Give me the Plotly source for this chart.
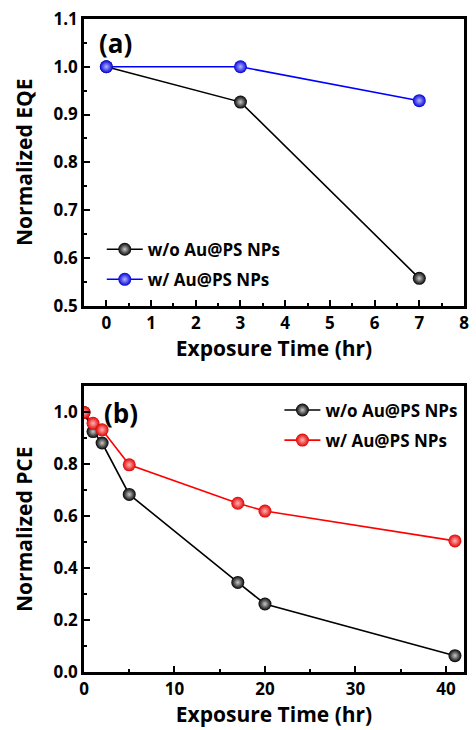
import plotly.graph_objects as go
from plotly.subplots import make_subplots

# Panel (a): normalized EQE vs exposure time
eqe_time = [0, 3, 7]
eqe_without = [1.0, 0.926, 0.557]
eqe_with = [1.0, 1.0, 0.929]

# Panel (b): normalized PCE vs exposure time
pce_time = [0, 1, 2, 5, 17, 20, 41]
pce_without = [1.0, 0.926, 0.882, 0.684, 0.345, 0.262, 0.063]
pce_with = [1.0, 0.958, 0.933, 0.798, 0.650, 0.620, 0.505]

label_without = "w/o Au@PS NPs"
label_with = "w/ Au@PS NPs"

FONT = "Open Sans"
W, H = 476, 730
M_L, M_R, M_T, M_B = 84, 7, 18, 58
plot_h = H - M_T - M_B
plot_w = W - M_L - M_R


def frac(py):
    return (H - M_B - py) / plot_h


def xfrac(px):
    return (px - M_L) / plot_w


fig = make_subplots(rows=2, cols=1)


def sphere(edge, center):
    return dict(size=13, color=edge, symbol="circle",
                line=dict(width=0),
                gradient=dict(type="radial", color=center))


fig.add_trace(go.Scatter(x=eqe_time, y=eqe_without, mode="lines+markers",
                         name=label_without, line=dict(color="black", width=1.6),
                         marker=sphere("#000000", "#c8c8c8"), legend="legend",
                         legendgroup="a1"), row=1, col=1)
fig.add_trace(go.Scatter(x=eqe_time, y=eqe_with, mode="lines+markers",
                         name=label_with, line=dict(color="#0000ff", width=1.6),
                         marker=sphere("#0000d8", "#b4b4ff"), legend="legend",
                         legendgroup="a2"), row=1, col=1)
fig.add_trace(go.Scatter(x=pce_time, y=pce_without, mode="lines+markers",
                         name=label_without, line=dict(color="black", width=1.6),
                         marker=sphere("#000000", "#c8c8c8"), legend="legend2",
                         legendgroup="b1"), row=2, col=1)
fig.add_trace(go.Scatter(x=pce_time, y=pce_with, mode="lines+markers",
                         name=label_with, line=dict(color="#ff0000", width=1.6),
                         marker=sphere("#e00000", "#ffb4b4"), legend="legend2",
                         legendgroup="b2"), row=2, col=1)

axis_common = dict(showline=True, mirror=True, linecolor="black", linewidth=2.6,
                   ticks="inside", ticklen=6, tickwidth=2, tickcolor="black",
                   showgrid=False, zeroline=False,
                   tickfont=dict(family=FONT, size=17, color="black", weight="bold"),
                   title_font=dict(family=FONT, size=21, color="black", weight="bold"))

fig.update_xaxes(**axis_common)
fig.update_yaxes(**axis_common)

fig.update_xaxes(range=[-0.5, 8], dtick=1, tick0=0,
                 minor=dict(ticks="inside", ticklen=3, tickwidth=2, dtick=0.5, tick0=0,
                            tickcolor="black"),
                 title_text="Exposure Time (hr)", title_standoff=8, row=1, col=1)
fig.update_yaxes(range=[0.5, 1.1], dtick=0.1, tick0=0.5, tickformat=".1f",
                 minor=dict(ticks="inside", ticklen=3, tickwidth=2, dtick=0.05, tick0=0.5,
                            tickcolor="black"),
                 title_text="Normalized EQE", title_standoff=16, row=1, col=1)
fig.update_xaxes(range=[0, 42], dtick=10, tick0=0,
                 minor=dict(ticks="inside", ticklen=3, tickwidth=2, dtick=5, tick0=0,
                            tickcolor="black"),
                 title_text="Exposure Time (hr)", title_standoff=8, row=2, col=1)
fig.update_yaxes(range=[0, 1.1], dtick=0.2, tick0=0, tickformat=".1f",
                 minor=dict(ticks="inside", ticklen=3, tickwidth=2, dtick=0.1, tick0=0,
                            tickcolor="black"),
                 title_text="Normalized PCE", title_standoff=16, row=2, col=1)

fig.update_layout(
    xaxis=dict(domain=[0, 1]),
    yaxis=dict(domain=[frac(305), 1.0]),
    xaxis2=dict(domain=[0, 1]),
    yaxis2=dict(domain=[0.0, frac(386)]),
)

legend_font = dict(family=FONT, size=17, color="black", weight="bold")
fig.update_layout(
    width=W, height=H,
    font=legend_font,
    margin=dict(l=M_L, r=M_R, t=M_T, b=M_B),
    paper_bgcolor="white", plot_bgcolor="white",
    legend=dict(x=xfrac(102), y=frac(231), xref="paper", yref="paper",
                xanchor="left", yanchor="top", font=legend_font,
                bgcolor="rgba(0,0,0,0)", tracegroupgap=5, itemwidth=36),
    legend2=dict(x=xfrac(282), y=frac(392), xref="paper", yref="paper",
                 xanchor="left", yanchor="top", font=legend_font,
                 bgcolor="rgba(0,0,0,0)", tracegroupgap=5, itemwidth=36),
    annotations=[
        dict(text="(a)", x=0.035, y=frac(22), xref="paper", yref="paper",
             xanchor="left", yanchor="top", showarrow=False,
             font=dict(family=FONT, size=26, color="black", weight="bold")),
        dict(text="(b)", x=0.047, y=frac(393), xref="paper", yref="paper",
             xanchor="left", yanchor="top", showarrow=False,
             font=dict(family=FONT, size=26, color="black", weight="bold")),
    ],
)

fig.write_html("out.html")
